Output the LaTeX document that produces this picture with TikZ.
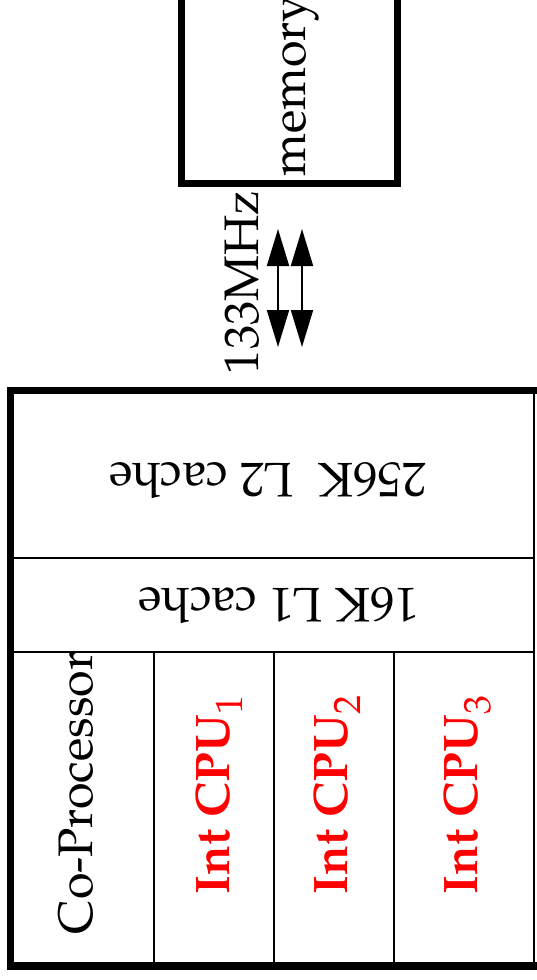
\documentclass[tikz,border=0pt]{standalone}
\usepackage[T1]{fontenc}
\usepackage{mathpazo}
\usetikzlibrary{arrows.meta}
\newcommand{\cpusub}[1]{\raisebox{-13pt}{\mdseries\fontsize{38}{40}\selectfont #1}}
\tikzset{
  thickbox/.style={line width=7.5pt},
  thinline/.style={line width=2pt},
  lbl/.style={inner sep=0pt, font=\fontsize{48.5}{58}\selectfont},
  cpulbl/.style={lbl, text=red, font=\fontsize{48.5}{58}\selectfont\bfseries},
  biarrow/.style={line width=2pt, {Triangle[length=37pt,width=22pt]}-{Triangle[length=37pt,width=22pt]}}
}
\begin{document}
\begin{tikzpicture}[x=1pt,y=-1pt]
\useasboundingbox (0,0) rectangle (536,980);
% memory box
\draw[thickbox] (181.5,-20) -- (181.5,183.5) -- (397.5,183.5) -- (397.5,-20);
\node[lbl, rotate=90, anchor=base] (mem) at (305,86) {memory};
% frequency
\node[lbl, rotate=90, anchor=base] (freq) at (258,282.5) {133MHz};
\coordinate (a1b) at (278,347);
\coordinate (a1t) at (278,229);
\coordinate (a2b) at (302,347);
\coordinate (a2t) at (302,229);
\draw[biarrow] (a1b) -- (a1t);
\draw[biarrow] (a2b) -- (a2t);
% chip box
\draw[thickbox] (560,390.5) -- (10.5,390.5) -- (10.5,966) -- (560,966);
\draw[thinline] (534,390) -- (534,966);
\draw[thinline] (10,558) -- (534,558);
\draw[thinline] (10,652) -- (534,652);
\draw[thinline] (154,652) -- (154,966);
\draw[thinline] (274,652) -- (274,966);
\draw[thinline] (394,652) -- (394,966);
\node[lbl, rotate=180, anchor=base] (l2) at (267.5,463) {256K\ \ L2 cache};
\node[lbl, rotate=180, anchor=base] (l1) at (278.5,588) {16K L1 cache};
\node[lbl, rotate=90, anchor=base] (cop) at (92,793) {Co-Processor};
\node[cpulbl, rotate=90, anchor=base] (cpu1) at (229,795) {Int CPU\cpusub{1}};
\node[cpulbl, rotate=90, anchor=base] (cpu2) at (347,795) {Int CPU\cpusub{2}};
\node[cpulbl, rotate=90, anchor=base] (cpu3) at (477,795) {Int CPU\cpusub{3}};
\end{tikzpicture}
\end{document}
